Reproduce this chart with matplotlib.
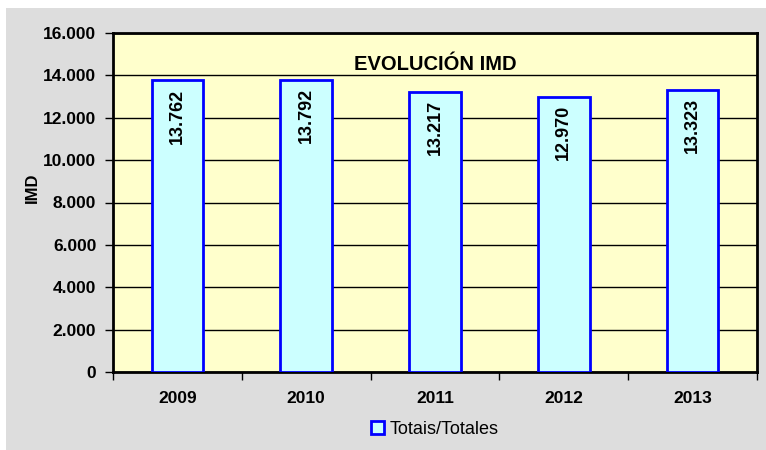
import matplotlib.pyplot as plt
import numpy as np
from matplotlib.patches import Rectangle

plt.rcParams['font.family'] = ['Liberation Sans', 'DejaVu Sans']

years = ["2009", "2010", "2011", "2012", "2013"]
imd = [13762, 13792, 13217, 12970, 13323]
labels = ["13.762", "13.792", "13.217", "12.970", "13.323"]
yticks = [0, 2000, 4000, 6000, 8000, 10000, 12000, 14000, 16000]
ytick_labels = ["0", "2.000", "4.000", "6.000", "8.000", "10.000", "12.000", "14.000", "16.000"]

fig = plt.figure(figsize=(7.66, 4.5), dpi=100)
fig.patch.set_facecolor("white")
# gray chart panel, behind the axes
fig.add_artist(Rectangle((6 / 766, 0), 1, 1 - 8 / 450, transform=fig.transFigure,
                         facecolor="#dddddd", edgecolor="none", zorder=-1))

ax = fig.add_axes([113 / 766, 78 / 450, 644 / 766, 339 / 450])
ax.set_facecolor("#ffffcc")

x = np.arange(len(years))
ax.bar(x, imd, width=0.40, color="#ccffff", edgecolor="#0000ff", linewidth=2,
       label="Totais/Totales", zorder=3)

for xi, v, lab in zip(x, imd, labels):
    ax.text(xi, v - 380, lab, rotation=90, ha="center", va="top",
            fontsize=13, fontweight="bold", zorder=4)

ax.set_xlim(-0.5, len(years) - 0.5)
ax.set_ylim(0, 16000)
ax.set_yticks(yticks)
ax.set_yticklabels(ytick_labels, fontsize=12.5, fontweight="bold")
ax.yaxis.grid(True, color="black", linewidth=1, zorder=1)
ax.set_axisbelow(True)

ax.set_xticks(x)
ax.set_xticklabels(years, fontsize=12.5, fontweight="bold")
ax.tick_params(axis="x", length=0, pad=14)
ax.set_xticks(np.arange(-0.5, len(years)), minor=True)
ax.tick_params(axis="x", which="minor", length=6, width=1, direction="out")
ax.tick_params(axis="y", length=6, width=1, direction="out", pad=6)

for s in ax.spines.values():
    s.set_linewidth(2)
    s.set_color("black")

fig.text(32 / 766, 1 - 188 / 450, "IMD", rotation=90, ha="center", va="center",
         fontsize=12, fontweight="bold")

ax.text(0.5, 0.908, "EVOLUCIÓN IMD", transform=ax.transAxes, ha="center", va="center",
        fontsize=14.5, fontweight="bold", zorder=5)

ax.legend(loc="center", bbox_to_anchor=(0.5, -0.17), frameon=False, fontsize=13,
          handlelength=0.7, handleheight=0.7, handletextpad=0.3)

fig.savefig("out.png", dpi=100)
